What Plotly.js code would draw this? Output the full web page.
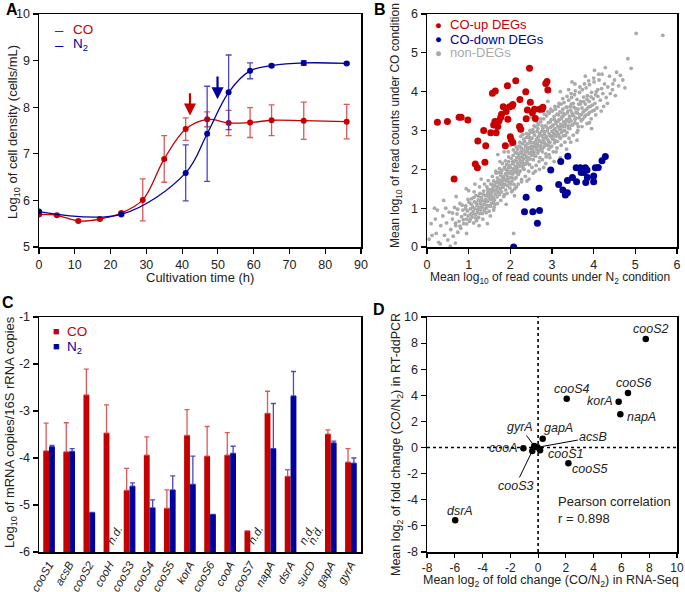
<!DOCTYPE html>
<html><head><meta charset="utf-8">
<script src="https://cdn.plot.ly/plotly-3.0.1.min.js"></script>
<style>html,body{margin:0;padding:0;background:#fff}#chart{width:685px;height:592px}</style>
</head><body><div id="chart"></div>
<script>
// ---------- Panel A data ----------
const timeCO = [0,5,11,17,23,29,35,41,47,53,59,65,74,86];
const densCO = [5.70,5.68,5.56,5.60,5.73,6.01,6.89,7.53,7.74,7.66,7.67,7.72,7.71,7.69];
const errCO  = [0.02,0.02,0.02,0.02,0.02,0.45,0.50,0.24,0.16,0.27,0.32,0.33,0.40,0.37];
const timeN2 = [0,23,41,47,53,59,65,74,86];
const densN2 = [5.76,5.70,6.59,7.43,8.32,8.78,8.89,8.95,8.94];
const errN2  = [0.02,0.02,0.60,1.02,0.80,0.17,0.03,0.05,0.02];
const arrowCO = {time:42.2, from:8.33, to:7.82};
const arrowN2 = {time:49.9, from:8.69, to:8.17};

// ---------- Panel B data ----------
const upDEG = [[0.25,3.21],[0.49,3.23],[0.77,3.34],[0.82,3.34],[0.98,3.27],[0.65,1.75],[1.16,2.14],[1.21,2.04],[1.22,2.73],[1.36,3.0],[1.41,2.61],[1.39,2.18],[1.53,2.94],[1.57,3.96],[1.64,4.02],[1.60,3.14],[1.63,3.23],[1.66,2.94],[1.70,3.10],[1.73,3.25],[1.77,3.34],[1.79,3.42],[1.83,3.61],[1.88,2.61],[1.90,3.49],[1.93,4.15],[1.94,3.29],[1.98,3.61],[2.0,2.84],[2.02,2.76],[2.04,3.63],[2.06,3.67],[2.06,2.69],[2.13,4.28],[2.23,3.80],[2.22,3.10],[2.25,3.03],[2.37,4.0],[2.38,3.30],[2.41,3.53],[2.46,4.6],[2.48,3.73],[2.53,3.46],[2.58,3.55],[2.60,3.31],[2.70,3.55],[2.76,3.55],[2.78,3.60],[2.85,4.21],[2.88,4.26],[2.90,4.04]];
const downDEG = [[2.38,1.28],[2.34,0.91],[2.54,0.91],[2.70,0.94],[2.65,0.61],[2.08,0.0],[2.69,1.51],[2.97,1.98],[3.16,1.61],[3.21,2.2],[3.26,1.47],[3.32,1.34],[3.37,1.40],[3.38,2.34],[3.37,1.71],[3.49,1.79],[3.58,2.04],[3.59,1.68],[3.68,2.04],[3.70,1.92],[3.74,2.01],[3.77,1.92],[3.80,2.04],[3.84,1.98],[3.81,1.66],[3.85,1.79],[4.0,1.83],[4.0,1.68],[4.04,2.04],[4.11,2.05],[4.20,2.22],[4.28,2.33]];
const nonDEG = [
[0.05,0.2],[0.1,0.6],[0.18,1.0],[0.22,0.35],[0.28,0.12],[0.33,0.55],[0.38,0.8],[0.42,0.3],[0.47,0.62],[0.5,0.18],[0.53,0.9],[0.57,0.45],[0.61,0.72],[0.63,0.28],[0.66,1.02],[0.69,0.55],[0.72,0.85],[0.74,0.38],[0.77,0.66],[0.79,1.12],[0.81,0.48],[0.83,0.78],[0.86,0.95],[0.88,0.6],[0.91,0.84],[0.56,0.02],[0.32,0.08],[0.12,0.3],
[0.93,1.06],[0.95,0.72],[0.97,0.93],[0.99,0.8],[1.01,1.15],[1.02,0.66],[1.04,0.98],[1.05,0.85],[1.07,1.24],[1.08,0.77],[1.1,1.03],[1.11,0.92],[1.12,0.62],[1.14,1.16],[1.15,0.99],[1.17,0.84],[1.18,1.33],[1.2,1.07],[1.21,0.9],[1.23,1.21],[1.24,0.76],[1.25,1.02],[1.27,1.38],[1.28,1.12],[1.29,0.95],[1.31,1.27],[1.32,1.05],[1.33,0.86],[1.35,1.19],[1.36,1.44],[1.37,1.1],[1.39,0.98],[1.4,1.32],[1.41,1.22],[1.43,1.08],[1.44,1.55],[1.45,1.37],[1.46,1.18],[1.48,1.29],[1.49,0.92],[1.5,1.48],[1.51,1.24],[1.53,1.62],[1.54,1.39],[1.55,1.12],[1.56,1.31],[1.58,1.52],[1.59,1.27],[1.6,1.7],[1.61,1.44],
[1.62,1.21],[1.63,1.58],[1.64,1.36],[1.66,1.66],[1.67,1.49],[1.68,1.29],[1.69,1.78],[1.7,1.55],[1.71,1.41],[1.72,1.92],[1.73,1.63],[1.74,1.35],[1.75,1.72],[1.76,1.5],[1.77,1.85],[1.78,1.6],[1.79,1.42],[1.8,1.98],[1.81,1.69],[1.82,1.54],[1.83,1.81],[1.84,1.3],[1.85,1.75],[1.86,2.05],[1.87,1.62],[1.88,1.88],[1.89,1.47],[1.9,1.71],[1.91,2.12],[1.92,1.83],[1.93,1.58],[1.94,1.96],[1.95,1.77],[1.96,2.2],[1.97,1.66],[1.98,1.9],[1.99,1.52],[2.0,2.05],[2.01,1.8],[2.02,2.28],[2.03,1.95],[2.04,1.7],[2.05,2.14],[2.06,1.88],[2.07,2.36],[2.08,2.02],[2.09,1.61],[2.1,2.22],[2.11,1.93],[2.12,2.43],[2.13,2.08],[2.14,1.79],[2.15,2.3],[2.16,2.0],[2.17,2.52],[2.18,2.16],[2.19,1.87],[2.2,2.38],[2.21,2.1],[2.22,2.6],[2.23,2.24],[2.24,1.96],[2.25,2.45],[2.26,2.18],[2.27,1.74],[2.28,2.32],[2.29,2.66],[2.3,2.05],[2.31,2.5],[2.32,2.27],[2.33,2.0],[2.34,2.72],[2.35,2.4],[2.36,2.14],[2.37,2.57],[2.38,2.33],[2.39,2.82],[2.4,2.22],[1.95,2.45],[2.05,1.45],[1.75,2.2],[2.15,1.55],[2.3,2.9],[1.65,1.95],
[2.41,2.48],[2.42,2.66],[2.43,2.3],[2.44,2.9],[2.45,2.55],[2.46,2.12],[2.47,2.74],[2.48,2.42],[2.49,2.95],[2.5,2.6],[2.51,2.36],[2.52,2.8],[2.53,2.5],[2.54,3.02],[2.55,2.25],[2.56,2.68],[2.57,2.44],[2.58,2.88],[2.59,2.58],[2.6,3.1],[2.61,2.34],[2.62,2.76],[2.63,2.52],[2.64,2.98],[2.65,2.66],[2.66,2.42],[2.67,3.15],[2.68,2.84],[2.69,2.6],[2.7,2.92],[2.71,2.3],[2.72,2.72],[2.73,3.22],[2.74,2.52],[2.75,2.98],[2.76,2.68],[2.77,2.45],[2.78,3.05],[2.79,2.8],[2.8,3.3],[2.81,2.58],[2.82,2.9],[2.83,2.66],[2.84,3.12],[2.85,2.4],[2.86,2.84],[2.87,3.38],[2.88,2.62],[2.89,3.0],[2.9,2.76],[2.91,3.2],[2.92,2.52],[2.93,2.92],[2.94,3.45],[2.95,2.7],[2.96,3.08],[2.97,2.85],[2.98,3.28],[2.99,2.6],[3.0,2.98],[3.01,3.5],[3.02,2.78],[3.03,3.14],[3.04,2.92],[3.05,3.36],[3.06,2.68],[3.07,3.05],[3.08,3.55],[3.09,2.85],[3.1,3.22],[3.11,2.98],[3.12,3.42],[3.13,2.72],[3.14,3.1],[3.15,3.62],[3.16,2.9],[3.17,3.28],[3.18,3.04],[3.19,3.48],[3.2,2.8],[3.21,3.16],[3.22,3.68],[3.23,2.95],[3.24,3.35],[3.25,3.1],[3.26,3.55],[3.27,2.86],[3.28,3.22],[3.29,3.72],[3.3,3.0],[2.6,1.95],[2.85,2.15],[3.1,2.45],[2.5,3.35],[2.75,3.6],[3.2,2.3],[2.95,2.3],
[3.31,3.42],[3.32,3.18],[3.34,3.6],[3.35,3.28],[3.36,2.95],[3.38,3.5],[3.39,3.12],[3.4,3.78],[3.42,3.36],[3.43,3.05],[3.44,3.62],[3.46,3.25],[3.47,3.85],[3.48,3.45],[3.5,3.15],[3.51,3.7],[3.52,3.38],[3.54,3.92],[3.55,3.2],[3.57,3.56],[3.58,3.32],[3.6,3.8],[3.61,3.45],[3.63,3.1],[3.64,3.68],[3.66,3.98],[3.67,3.4],[3.69,3.75],[3.7,3.25],[3.72,3.58],[3.73,4.05],[3.75,3.48],[3.76,3.86],[3.78,3.35],[3.8,3.68],[3.82,4.1],[3.83,3.55],[3.85,3.9],[3.87,3.42],[3.89,3.75],[3.9,4.18],[3.92,3.62],[3.95,3.98],[3.97,3.5],[3.99,3.82],[4.01,4.25],[4.03,3.7],[4.06,4.0],[4.08,3.58],[4.1,3.88],[4.13,4.3],[4.16,3.78],[4.19,4.08],[4.22,3.95],[4.26,4.2],[4.3,3.85],[4.34,4.12],[4.38,4.4],[3.45,2.7],[3.6,2.95],[3.9,3.2],[3.55,4.2],[3.8,4.4],
[4.45,4.05],[4.5,4.3],[4.55,4.5],[4.28,4.62],[4.02,4.55],[4.7,4.3],[4.6,4.15],[4.82,4.85],[5.02,5.5],[5.66,5.45],[4.1,4.05],[4.2,4.45],
[1.3,1.75],[1.0,1.45],[1.6,0.95],[2.4,1.7],[2.7,2.0],[3.4,4.05],[1.85,2.45],[2.55,1.9],[0.45,1.0],[0.2,0.72],[0.68,0.1],[1.25,0.55],[2.08,0.35],
[1.47,1.41],[1.52,1.05],[1.57,1.46],[1.63,1.1],[1.71,1.67],[1.78,1.92],[1.84,1.58],[1.89,2.0],[1.93,1.74],[1.97,2.1],[2.01,1.62],[2.06,2.2],[2.11,1.76],[2.16,2.42],[2.21,1.92],[2.26,2.55],[2.31,2.12],[2.36,2.62],[2.41,2.16],[2.46,2.82],[2.51,2.52],[2.56,2.95],[2.61,2.62],[2.66,3.05],[2.71,2.5],[2.76,3.12],[2.81,2.7],[2.86,3.1],[2.91,2.62],[2.96,3.22],[3.01,2.8],[3.06,3.28],[3.11,2.88],[3.16,3.4],[3.21,3.02],[3.26,3.45],[3.31,3.1],[3.36,3.6],[3.41,3.22],[3.46,3.68],
[1.13,1.42],[1.19,0.68],[1.26,1.55],[1.34,0.72],[1.38,1.62],[1.42,0.88],[1.47,1.71],[1.52,0.8],[1.57,1.82],[1.61,1.02],[1.66,1.9],[1.69,1.12],[1.74,2.02],[1.77,1.2],[1.81,2.15],[1.86,1.35],[1.88,2.22],[1.92,1.38],[1.96,2.32],[2.03,1.42],[2.07,2.5],[2.11,1.5],[2.14,2.58],[2.19,1.62],[2.23,2.7],[2.27,1.68],[2.32,2.78],[2.36,1.82],[2.39,2.92],[2.44,1.95],[2.47,3.0],[2.52,2.05],[2.57,3.12],[2.62,2.1],[2.64,3.22],[2.69,2.2],[2.73,3.3],[2.77,2.25],[2.82,3.42],[2.86,2.32],[2.9,3.48],[2.93,2.38],[2.97,3.55],[3.03,2.45],[3.07,3.62],[3.12,2.55],[3.17,3.7],[3.22,2.62],[3.26,3.82],[3.31,2.7],[3.36,3.88],[3.41,2.8],[3.46,3.95],[3.51,2.88],[3.56,4.02],[3.62,3.0],[3.67,4.12],[3.72,3.1],[3.78,4.2],[3.84,3.18],[3.88,4.28],[3.94,3.3],[4.0,4.35],[4.05,3.4],[4.12,4.45],[4.18,3.5],[4.24,3.62],[4.33,3.7],[4.4,3.95],[4.46,4.2],[4.52,3.9],[4.64,4.42],[4.75,4.1],[4.9,4.6],
[1.537,1.463],[1.612,1.588],[1.684,1.452],[1.703,1.703],[1.756,1.624],[1.812,1.777],[1.834,1.612],[1.878,1.734],[1.905,1.902],[1.944,1.693],[1.963,2.041],[2.012,1.921],[2.046,1.782],[2.071,2.156],[2.103,1.995],[2.138,2.216],[2.162,1.914],[2.188,2.064],[2.214,2.312],[2.242,2.087],[2.268,2.421],[2.293,2.196],[2.318,2.378],[2.347,2.127],[2.372,2.464],[2.396,2.301],[2.423,2.552],[2.447,2.412],[2.474,2.263],[2.498,2.689],[2.523,2.431],[2.548,2.587],[2.574,2.352],[2.596,2.703],[2.624,2.564],[2.648,2.808],[2.672,2.475],[2.694,2.738],[2.726,2.602],[2.748,2.874],[2.772,2.542],[2.796,2.722],[2.824,2.968],[2.849,2.631],[2.873,2.793],[2.898,3.046],[2.921,2.705],[2.947,2.872],[2.972,2.577],[2.997,3.112],[3.024,2.882],[3.048,3.018],[3.073,2.746],[3.096,3.176],[3.122,2.962],[3.147,3.238],[3.174,2.842],[3.198,3.094],[3.223,3.302],[3.246,2.986],[3.272,3.372],[3.297,3.132],[3.323,2.874],[3.348,3.264],[3.372,3.452],[3.398,3.058],[3.424,3.312],[3.449,3.526],[3.474,3.138],[3.498,3.392],[3.526,3.604],[3.553,3.288],[3.578,3.466],[3.604,3.172],[3.628,3.552],[3.654,3.326],[3.682,3.682],[3.707,3.416],[3.733,3.288],[3.762,3.742],[3.786,3.512],[3.812,3.396],[3.842,3.806],[3.873,3.604],[3.904,3.468],[3.936,3.866],[3.968,3.654],[4.012,3.524],[4.046,3.918],
[0.612,0.876],[0.684,0.612],[0.736,0.974],[0.792,0.534],[0.846,1.078],[0.872,0.702],[0.927,0.986],[0.953,0.598],[0.984,1.226],[1.036,0.712],[1.062,1.102],[1.094,0.848],[1.126,1.276],[1.162,0.752],[1.186,1.134],[1.216,0.964],[1.244,1.308],[1.266,0.862],[1.292,1.184],[1.318,1.026],[1.344,1.364],[1.374,0.938],[1.402,1.166],[1.428,1.006],[1.456,1.482],[1.484,1.062],[1.512,1.356],[1.546,1.218],[1.574,1.598],[1.596,1.142],
[0.94,1.5],[1.15,1.62],[1.7,2.38],[2.0,2.62],[2.25,2.85],[2.1,1.32],[2.45,1.75],[2.8,2.05],[3.05,2.2],[3.35,2.52],[3.6,2.75],[3.95,3.05],[2.55,3.4],[2.9,3.75],[3.2,4.0],[3.48,4.25],[0.4,1.2],[0.95,0.35],[1.45,0.6],[1.9,1.1],[0.25,0.95],[0.7,1.3]
];

// ---------- Panel C data ----------
const genes  = ['cooS1','acsB','cooS2','cooH','cooS3','cooS4','cooS5','korA','cooS6','cooA','cooS7','napA','dsrA','sucD','gapA','gyrA'];
const coVals = [-3.85,-3.87,-2.66,-3.47,-4.69,-3.94,-5.07,-3.52,-3.96,-3.94,-5.55,-3.05,-4.39,null,-3.49,-4.09];
const coErr  = [0.59,0.62,0.55,0.60,0.47,0.39,0.39,0.55,0.63,0.48,0,0.47,0.14,0,0.09,0.29];
const n2Vals = [-3.76,-3.86,-5.16,null,-4.60,-5.06,-4.68,-4.56,-5.20,-3.90,null,-3.80,-2.68,null,-3.68,-4.11];
const n2Err  = [0.03,0.06,0,0,0.07,0.17,0.30,0.60,0,0.15,0,0.96,0.52,0,0.04,0.11];
const ndCO = ['sucD'];
const ndN2 = ['cooH','cooS7','sucD'];
const cTicks = [-1,-2,-3,-4,-5,-6];

// ---------- Panel D data ----------
const dGenes = ['cooS2','cooS6','korA','napA','cooS4','gapA','acsB','gyrA','cooA','cooS1','cooS5','cooS3','dsrA'];
const rnaSeq = [7.75,6.47,5.80,5.92,2.06,0.33,-0.05,-0.28,-1.06,0.14,2.18,-0.42,-5.97];
const ddPCR  = [8.32,4.18,3.51,2.55,3.74,0.68,0.02,0.12,-0.06,-0.21,-1.20,-0.26,-5.57];
const dTicks = [-8,-6,-4,-2,0,2,4,6,8,10];
const pearsonR = 0.898;

// ---------- styling ----------
const W = 685, H = 592;
const RED = '#c40000', BLUE = '#00009c';
const RED_E = 'rgba(214,60,60,0.85)', BLUE_E = 'rgba(40,40,190,0.85)';
const FONT = 'Liberation Sans, Arial, Helvetica, sans-serif';
const px = v => v / W, py = v => 1 - v / H;
const dx = (a,b) => [px(a), px(b)], dy = (top,bot) => [py(bot), py(top)];

const dLabelPos = {
  cooS2:{xs:5,ys:10}, cooS6:{xs:6,ys:10}, korA:{xs:-19,ys:1}, napA:{xs:21,ys:-3},
  cooS4:{xs:5,ys:10}, gapA:{xs:16,ys:11}, cooA:{xs:-20,ys:0}, cooS1:{xs:25,ys:-4},
  cooS5:{xs:21,ys:-6}, dsrA:{xs:5,ys:9}
};
const dArrowPos = { gyrA:{ax:-14,ay:-19}, acsB:{ax:56,ay:-10}, cooS3:{ax:-17,ay:35} };

const axBase = {
  showline:true, linecolor:'#000', linewidth:1.5, mirror:true, showgrid:false, zeroline:false,
  ticks:'outside', ticklen:5, tickwidth:1.2, tickcolor:'#000',
  tickfont:{family:FONT, size:12.5, color:'#222'}, automargin:false
};

const traces = [];
traces.push({x:timeCO, y:densCO, xaxis:'x', yaxis:'y', type:'scatter', mode:'lines+markers',
  line:{shape:'spline', color:RED, width:1.3}, marker:{size:6, color:RED},
  error_y:{type:'data', array:errCO, color:RED_E, thickness:1.3, width:3}});
traces.push({x:timeN2, y:densN2, xaxis:'x', yaxis:'y', type:'scatter', mode:'lines+markers',
  line:{shape:'spline', color:BLUE, width:1.3}, marker:{size:6, color:BLUE},
  error_y:{type:'data', array:errN2, color:BLUE_E, thickness:1.3, width:3}});
traces.push({x:nonDEG.map(p=>p[0]), y:nonDEG.map(p=>p[1]), xaxis:'x2', yaxis:'y2', type:'scatter', mode:'markers',
  marker:{size:3.8, color:'#aaaaaa'}});
traces.push({x:upDEG.map(p=>p[0]), y:upDEG.map(p=>p[1]), xaxis:'x2', yaxis:'y2', type:'scatter', mode:'markers',
  marker:{size:7, color:'#c80000'}});
traces.push({x:downDEG.map(p=>p[0]), y:downDEG.map(p=>p[1]), xaxis:'x2', yaxis:'y2', type:'scatter', mode:'markers',
  marker:{size:7, color:'#000099'}});
const C_BASE = -6;
traces.push({x:genes, y:coVals.map(v=>v===null?null:v-C_BASE), base:C_BASE, xaxis:'x3', yaxis:'y3', type:'bar',
  marker:{color:RED, line:{width:0}},
  error_y:{type:'data', symmetric:false, array:coErr, arrayminus:coErr.map(()=>0), color:RED_E, thickness:1.3, width:2.5}});
traces.push({x:genes, y:n2Vals.map(v=>v===null?null:v-C_BASE), base:C_BASE, xaxis:'x3', yaxis:'y3', type:'bar',
  marker:{color:BLUE, line:{width:0}},
  error_y:{type:'data', symmetric:false, array:n2Err, arrayminus:n2Err.map(()=>0), color:BLUE_E, thickness:1.3, width:2.5}});
traces.push({x:rnaSeq, y:ddPCR, xaxis:'x4', yaxis:'y4', type:'scatter', mode:'markers',
  marker:{size:6.5, color:'#000'}});

const annotations = [];
const ann = o => annotations.push(Object.assign({showarrow:false, xanchor:'center', yanchor:'middle', font:{family:FONT,size:13,color:'#222'}}, o));
// panel letters
[['A',12,9],['B',380,10],['C',8,302],['D',379,309]].forEach(([t,x,y]) =>
  ann({text:'<b>'+t+'</b>', xref:'paper', yref:'paper', x:px(x), y:py(y), font:{family:FONT,size:16,color:'#000'}}));
// axis titles
const title = (t,x,y,size,rot) => ann({text:t, xref:'paper', yref:'paper', x:px(x), y:py(y), textangle:rot||0, font:{family:FONT,size:size,color:'#222'}});
title('Log<sub>10</sub> of cell density (cells/mL)', 13, 132, 13, -90);
title('Cultivation time (h)', 200, 277, 13);
title('Mean log<sub>10</sub> of read counts under CO condition', 396, 126, 12, -90);
title('Mean log<sub>10</sub> of read counts under N<sub>2</sub> condition', 550, 278, 12);
title('Log<sub>10</sub> of mRNA copies/16S rRNA copies', 10, 432, 13, -90);
title('Mean log<sub>2</sub> of fold change (CO/N<sub>2</sub>) in RT-ddPCR', 397, 445, 12.5, -90);
title('Mean log<sub>2</sub> of fold change (CO/N<sub>2</sub>) in RNA-Seq', 551, 581, 12.5);
// A legend
ann({text:'–', xref:'paper', yref:'paper', x:px(59), y:py(30), font:{family:FONT,size:15,color:RED}});
ann({text:'CO', xref:'paper', yref:'paper', x:px(71), y:py(30), xanchor:'left', font:{family:FONT,size:13.5,color:RED}});
ann({text:'–', xref:'paper', yref:'paper', x:px(59), y:py(44), font:{family:FONT,size:15,color:BLUE}});
ann({text:'N<sub>2</sub>', xref:'paper', yref:'paper', x:px(71), y:py(45), xanchor:'left', font:{family:FONT,size:13.5,color:BLUE}});
// A arrows
[[arrowCO,RED],[arrowN2,BLUE]].forEach(([a,c]) => annotations.push({
  x:a.time, y:a.to, ax:a.time, ay:a.from, xref:'x', yref:'y', axref:'x', ayref:'y', text:'',
  showarrow:true, arrowhead:2, arrowsize:1.1, arrowwidth:2.2, arrowcolor:c}));
// B legend
[['CO-up DEGs','#c80000',25],['CO-down DEGs','#000099',39],['non-DEGs','#a9a9a9',53]].forEach(([t,c,y]) => {
  ann({text:'●', xref:'paper', yref:'paper', x:px(439), y:py(y), font:{family:FONT,size:11.5,color:c}});
  ann({text:t, xref:'paper', yref:'paper', x:px(448), y:py(y), xanchor:'left', font:{family:FONT,size:13,color:c}});
});
// C legend
ann({text:'■', xref:'paper', yref:'paper', x:px(56), y:py(331), font:{family:FONT,size:11,color:RED}});
ann({text:'CO', xref:'paper', yref:'paper', x:px(65), y:py(331), xanchor:'left', font:{family:FONT,size:13.5,color:RED}});
ann({text:'■', xref:'paper', yref:'paper', x:px(56), y:py(346), font:{family:FONT,size:11,color:BLUE}});
ann({text:'N<sub>2</sub>', xref:'paper', yref:'paper', x:px(65), y:py(347), xanchor:'left', font:{family:FONT,size:13.5,color:BLUE}});
// n.d.
ndCO.forEach(g => ann({text:'<i>n.d.</i>', xref:'x3', yref:'y3', x:g, y:-6, xshift:-4, yshift:3, yanchor:'bottom', textangle:-60, font:{family:FONT,size:11.5,color:'#222'}}));
ndN2.forEach(g => ann({text:'<i>n.d.</i>', xref:'x3', yref:'y3', x:g, y:-6, xshift:5, yshift:3, yanchor:'bottom', textangle:-60, font:{family:FONT,size:11.5,color:'#222'}}));
// D labels
dGenes.forEach((g,i) => {
  if (dLabelPos[g]) {
    ann({text:'<i>'+g+'</i>', xref:'x4', yref:'y4', x:rnaSeq[i], y:ddPCR[i], xshift:dLabelPos[g].xs, yshift:dLabelPos[g].ys, font:{family:FONT,size:12.5,color:'#222'}});
  } else if (dArrowPos[g]) {
    annotations.push({text:'<i>'+g+'</i>', xref:'x4', yref:'y4', x:rnaSeq[i], y:ddPCR[i], ax:dArrowPos[g].ax, ay:dArrowPos[g].ay,
      showarrow:true, arrowhead:0, arrowwidth:1, arrowcolor:'#000', standoff:2, font:{family:FONT,size:12.5,color:'#222'}});
  }
});
ann({text:'Pearson correlation<br>r = '+pearsonR.toFixed(3), xref:'paper', yref:'paper', x:px(556), y:py(492), xanchor:'left', yanchor:'top', align:'left'});

const shapes = [
  {type:'line', xref:'x4', yref:'y4 domain', x0:0, x1:0, y0:0, y1:1, line:{color:'#000', width:1.6, dash:'dot'}},
  {type:'line', xref:'x4 domain', yref:'y4', x0:0, x1:1, y0:0, y1:0, line:{color:'#000', width:1.6, dash:'dot'}}
];

const layout = {
  width:W, height:H, margin:{l:0,r:0,t:0,b:0}, paper_bgcolor:'#fff', plot_bgcolor:'#fff',
  showlegend:false, font:{family:FONT, size:13, color:'#222'},
  barmode:'group', bargap:0.42, bargroupgap:0,
  xaxis: Object.assign({}, axBase, {domain:dx(39,361), anchor:'y', range:[0,90], dtick:10, tick0:0}),
  yaxis: Object.assign({}, axBase, {domain:dy(14,247), anchor:'x', range:[5,10], dtick:1}),
  xaxis2: Object.assign({}, axBase, {domain:dx(427,677), anchor:'y2', range:[0,6], dtick:1}),
  yaxis2: Object.assign({}, axBase, {domain:dy(14,247), anchor:'x2', range:[0,6], dtick:1}),
  xaxis3: Object.assign({}, axBase, {domain:dx(39,361), anchor:'y3', type:'category', ticks:'', tickangle:-60,
    tickvals:genes, ticktext:genes.map(g=>'<i>'+g+'</i>'), tickfont:{family:FONT,size:11.5,color:'#222'}}),
  yaxis3: Object.assign({}, axBase, {domain:dy(317,552), anchor:'x3', range:[-6,-1],
    tickvals:cTicks, ticktext:cTicks.map(String)}),
  xaxis4: Object.assign({}, axBase, {domain:dx(427,677), anchor:'y4', range:[-8,10], ticklen:4,
    tickvals:dTicks, ticktext:dTicks.map(String), tickfont:{family:FONT,size:12,color:'#222'}}),
  yaxis4: Object.assign({}, axBase, {domain:dy(317,552), anchor:'x4', range:[-8,10],
    tickvals:dTicks, ticktext:dTicks.map(String)}),
  annotations, shapes
};

Plotly.newPlot('chart', traces, layout, {displayModeBar:false, staticPlot:true});
</script></body></html>
